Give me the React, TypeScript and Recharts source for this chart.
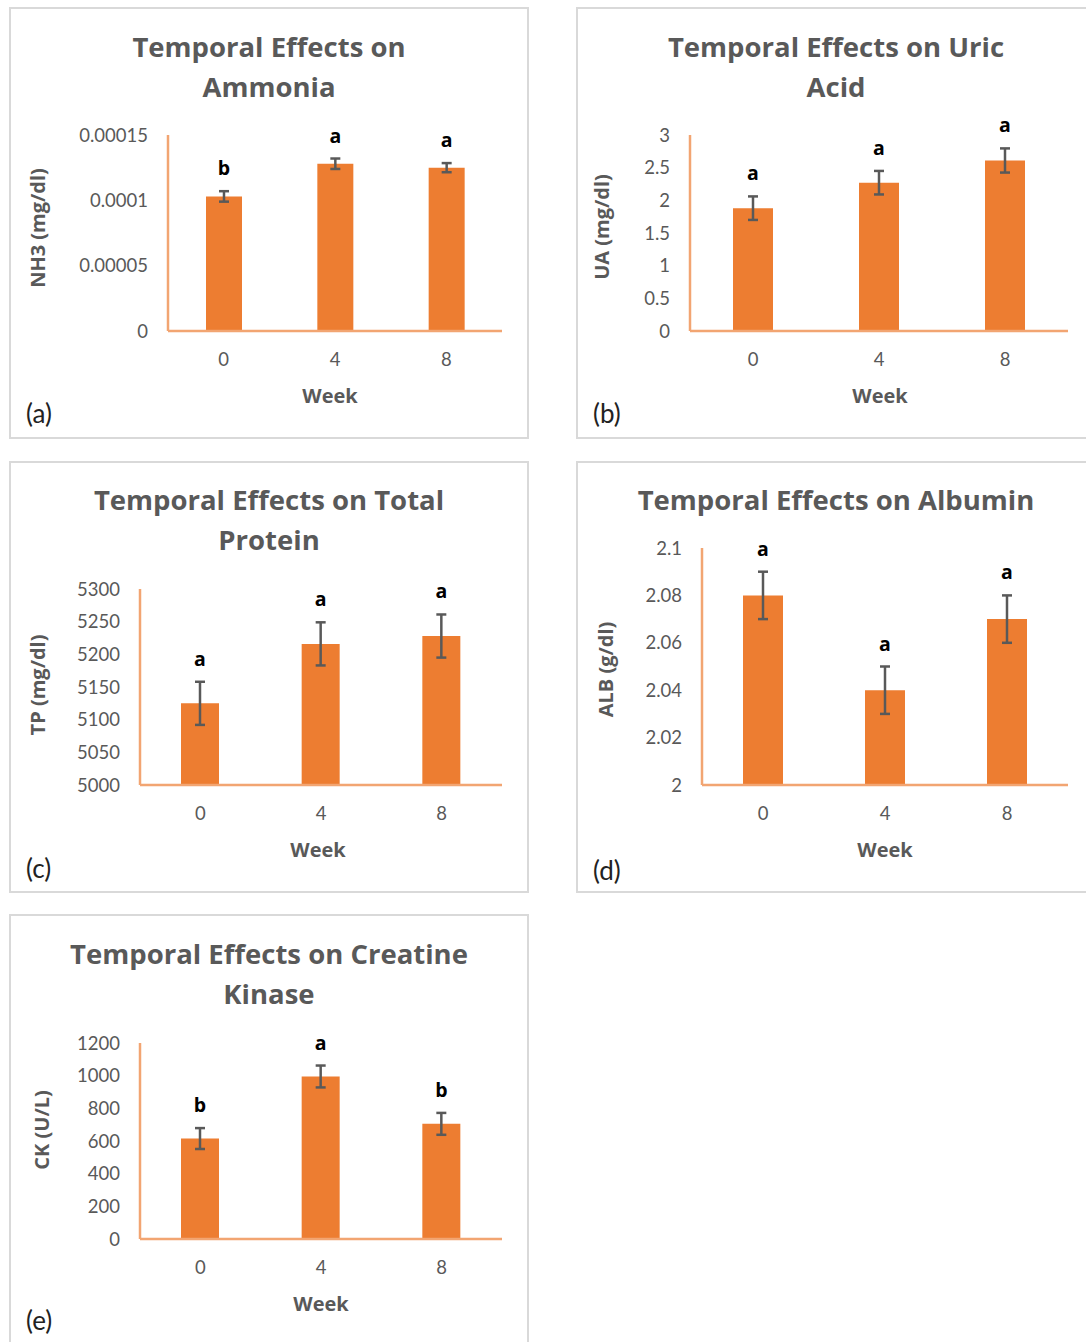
import React from "react";
import { BarChart, Bar, XAxis, YAxis, ErrorBar, LabelList, Label } from "recharts";

// ---------- data ----------
const weeks = ["0", "4", "8"];

const nh3Values = [0.000103, 0.000128, 0.000125];
const nh3Errors = [0.000004, 0.000004, 0.0000035];
const nh3Letters = ["b", "a", "a"];
const nh3Ticks = [0, 0.00005, 0.0001, 0.00015];
const nh3TickLabels = ["0", "0.00005", "0.0001", "0.00015"];

const uaValues = [1.88, 2.27, 2.61];
const uaErrors = [0.18, 0.18, 0.185];
const uaLetters = ["a", "a", "a"];
const uaTicks = [0, 0.5, 1, 1.5, 2, 2.5, 3];
const uaTickLabels = ["0", "0.5", "1", "1.5", "2", "2.5", "3"];

const tpValues = [5125, 5216, 5228];
const tpErrors = [33, 33, 33];
const tpLetters = ["a", "a", "a"];
const tpTicks = [5000, 5050, 5100, 5150, 5200, 5250, 5300];
const tpTickLabels = ["5000", "5050", "5100", "5150", "5200", "5250", "5300"];

const albValues = [2.08, 2.04, 2.07];
const albErrors = [0.01, 0.01, 0.01];
const albLetters = ["a", "a", "a"];
const albTicks = [2, 2.02, 2.04, 2.06, 2.08, 2.1];
const albTickLabels = ["2", "2.02", "2.04", "2.06", "2.08", "2.1"];

const ckValues = [615, 995, 705];
const ckErrors = [64, 67, 67];
const ckLetters = ["b", "a", "b"];
const ckTicks = [0, 200, 400, 600, 800, 1000, 1200];
const ckTickLabels = ["0", "200", "400", "600", "800", "1000", "1200"];

// ---------- styling ----------
const FONT = "Lato, 'Open Sans', sans-serif";
const BOLD_FONT = "'Open Sans', Lato, sans-serif";
const TEXT = "#595959";
const BAR = "#ED7D31";
const AXIS = "#F2A572";
const INNER_W = 516;
const INNER_H = 428;
const XAXIS_H = 90;

type PanelCfg = {
  left: number;
  top: number;
  title: string[];
  titleY: number;
  yLabel: string;
  yLabelX: number;
  yLabelDy: number;
  weekDx: number;
  tag: string;
  tagY: number;
  values: number[];
  errors: number[];
  letters: string[];
  ticks: number[];
  tickLabels: string[];
  axisX: number;
  plotTop: number;
  plotBottom: number;
  plotRight: number;
  barSize: number;
};

const panels: PanelCfg[] = [
  {
    left: 9, top: 7, title: ["Temporal Effects on", "Ammonia"], titleY: 38,
    yLabel: "NH3 (mg/dl)", yLabelX: 26, yLabelDy: -5, weekDx: -5, tag: "(a)", tagY: 404,
    values: nh3Values, errors: nh3Errors, letters: nh3Letters, ticks: nh3Ticks, tickLabels: nh3TickLabels,
    axisX: 157, plotTop: 126, plotBottom: 322, plotRight: 491, barSize: 36,
  },
  {
    left: 576, top: 7, title: ["Temporal Effects on Uric", "Acid"], titleY: 38,
    yLabel: "UA (mg/dl)", yLabelX: 23, yLabelDy: -6, weekDx: 1, tag: "(b)", tagY: 404,
    values: uaValues, errors: uaErrors, letters: uaLetters, ticks: uaTicks, tickLabels: uaTickLabels,
    axisX: 112, plotTop: 126, plotBottom: 322, plotRight: 490, barSize: 40,
  },
  {
    left: 9, top: 461, title: ["Temporal Effects on Total", "Protein"], titleY: 37,
    yLabel: "TP (mg/dl)", yLabelX: 26, yLabelDy: -2, weekDx: -3, tag: "(c)", tagY: 405,
    values: tpValues, errors: tpErrors, letters: tpLetters, ticks: tpTicks, tickLabels: tpTickLabels,
    axisX: 129, plotTop: 126, plotBottom: 322, plotRight: 491, barSize: 38,
  },
  {
    left: 576, top: 461, title: ["Temporal Effects on Albumin"], titleY: 37,
    yLabel: "ALB (g/dl)", yLabelX: 27, yLabelDy: 3, weekDx: 0, tag: "(d)", tagY: 407,
    values: albValues, errors: albErrors, letters: albLetters, ticks: albTicks, tickLabels: albTickLabels,
    axisX: 124, plotTop: 85, plotBottom: 322, plotRight: 490, barSize: 40,
  },
  {
    left: 9, top: 914, title: ["Temporal Effects on Creatine", "Kinase"], titleY: 38,
    yLabel: "CK (U/L)", yLabelX: 30, yLabelDy: -11, weekDx: 0, tag: "(e)", tagY: 404,
    values: ckValues, errors: ckErrors, letters: ckLetters, ticks: ckTicks, tickLabels: ckTickLabels,
    axisX: 129, plotTop: 127, plotBottom: 323, plotRight: 491, barSize: 38,
  },
];

function Panel({ cfg }: { cfg: PanelCfg }) {
  const data = weeks.map((w, i) => ({ week: w, value: cfg.values[i], err: cfg.errors[i] }));
  const domainMin = cfg.ticks[0];
  const domainMax = cfg.ticks[cfg.ticks.length - 1];

  const letterContent = (props: any) => {
    const { x, y, width, height, index } = props;
    const v = cfg.values[index];
    const k = Number(height) / (v - domainMin);
    const errTop = Number(y) - cfg.errors[index] * k;
    return (
      <text
        x={Number(x) + Number(width) / 2}
        y={errTop - 16}
        textAnchor="middle"
        fontFamily={BOLD_FONT}
        fontSize={19.5}
        fontWeight="bold"
        fill="#000"
      >
        {cfg.letters[index]}
      </text>
    );
  };

  return (
    <div
      style={{
        position: "absolute",
        left: cfg.left,
        top: cfg.top,
        width: INNER_W + 4,
        height: INNER_H + 4,
        border: "2px solid #D9D9D9",
        boxSizing: "border-box",
        background: "#fff",
      }}
    >
      <div
        style={{
          position: "absolute",
          left: 0,
          top: cfg.titleY - 20,
          width: INNER_W,
          textAlign: "center",
          fontFamily: BOLD_FONT,
          fontWeight: 700,
          fontSize: 27.5,
          lineHeight: "40px",
          color: TEXT,
          whiteSpace: "nowrap",
        }}
      >
        {cfg.title.map((t, i) => (
          <div key={i}>{t}</div>
        ))}
      </div>
      <div style={{ position: "absolute", left: 0, top: 0 }}>
        <BarChart
          width={INNER_W}
          height={INNER_H}
          data={data}
          margin={{
            top: cfg.plotTop,
            right: INNER_W - cfg.plotRight,
            bottom: INNER_H - cfg.plotBottom - XAXIS_H,
            left: 0,
          }}
          barCategoryGap={0}
        >
          <XAxis
            dataKey="week"
            height={XAXIS_H}
            axisLine={{ stroke: AXIS, strokeWidth: 2.5 }}
            tickLine={false}
            tickSize={6}
            tickMargin={16}
            tick={{ fill: TEXT, fontSize: 18.5, fontFamily: FONT }}
          >
            <Label
              content={(p: any) => {
                const vb = p.viewBox || {};
                return (
                  <text
                    x={vb.x + vb.width / 2 + cfg.weekDx}
                    y={vb.y + 64}
                    textAnchor="middle"
                    dominantBaseline="central"
                    fontFamily={BOLD_FONT}
                    fontWeight="bold"
                    fontSize={20}
                    fill={TEXT}
                  >
                    Week
                  </text>
                );
              }}
            />
          </XAxis>
          <YAxis
            width={cfg.axisX}
            domain={[domainMin, domainMax]}
            ticks={cfg.ticks}
            interval={0}
            axisLine={{ stroke: AXIS, strokeWidth: 2.5 }}
            tickLine={false}
            tickSize={6}
            tickMargin={14}
            tick={{ fill: TEXT, fontSize: 18.5, fontFamily: FONT }}
            tickFormatter={(v: number, i: number) => cfg.tickLabels[i] ?? String(v)}
          >
            <Label
              content={(p: any) => {
                const vb = p.viewBox || {};
                const cy = vb.y + vb.height / 2 + cfg.yLabelDy;
                return (
                  <text
                    x={cfg.yLabelX}
                    y={cy}
                    transform={`rotate(-90, ${cfg.yLabelX}, ${cy})`}
                    textAnchor="middle"
                    dominantBaseline="central"
                    fontFamily={BOLD_FONT}
                    fontWeight="bold"
                    fontSize={20}
                    fill={TEXT}
                  >
                    {cfg.yLabel}
                  </text>
                );
              }}
            />
          </YAxis>
          <Bar dataKey="value" fill={BAR} barSize={cfg.barSize} isAnimationActive={false}>
            <ErrorBar dataKey="err" width={5} strokeWidth={2.5} stroke={TEXT} direction="y" />
            <LabelList dataKey="value" content={letterContent} />
          </Bar>
        </BarChart>
      </div>
      <div
        style={{
          position: "absolute",
          left: 15,
          top: cfg.tagY - 16,
          fontFamily: FONT,
          fontSize: 26,
          lineHeight: "32px",
          color: "#222",
        }}
      >
        {cfg.tag}
      </div>
    </div>
  );
}

export default function App() {
  return (
    <div
      style={{
        position: "absolute",
        left: 0,
        top: 0,
        width: 1086,
        height: 1342,
        overflow: "hidden",
        background: "#fff",
      }}
    >
      {panels.map((p, i) => (
        <Panel key={i} cfg={p} />
      ))}
    </div>
  );
}
